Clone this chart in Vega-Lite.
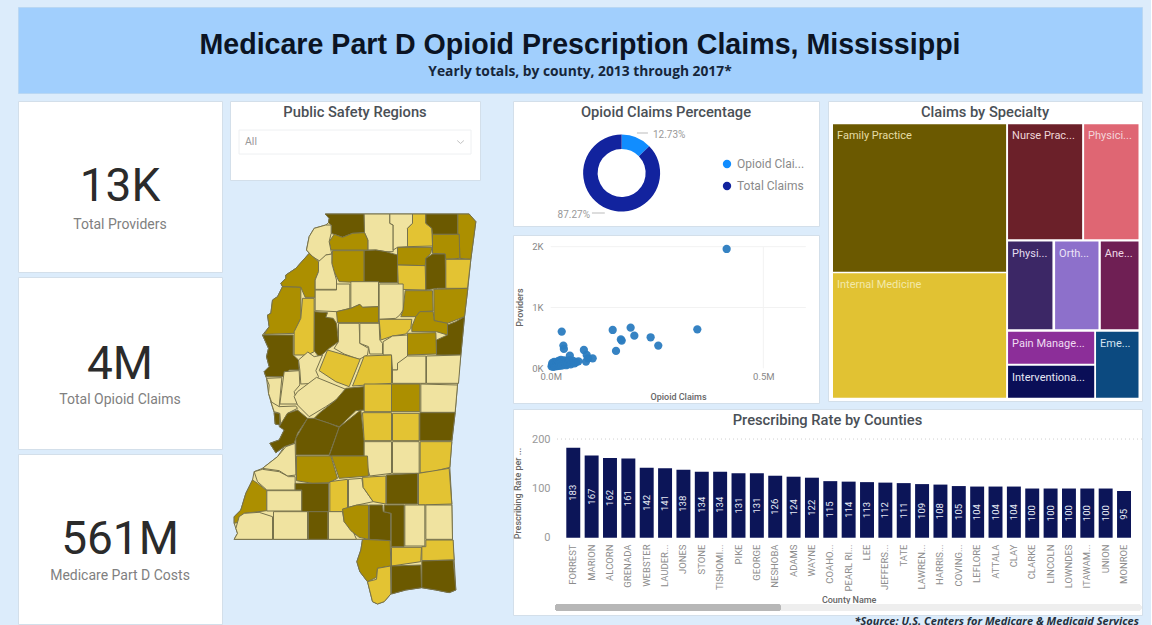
{"$schema":"https://vega.github.io/schema/vega-lite/v6.json","background":"#dcecfb","padding":{"left":17,"top":6,"right":8,"bottom":0},"autosize":{"type":"pad"},"config":{"font":"Roboto","view":{"stroke":null},"title":{"font":"Roboto","fontSize":14.7,"fontWeight":500,"color":"#4a5056","anchor":"middle"},"axis":{"labelFont":"Roboto","titleFont":"Roboto","grid":false,"domain":false,"ticks":false}},"spacing":6,"resolve":{"scale":{"color":"independent"}},"vconcat":[{"width":1124,"height":86,"view":{"fill":"#a1cffd","stroke":"#b9d7f3"},"data":{"values":[{"headline":"Medicare Part D Opioid Prescription Claims, Mississippi","sub":"Yearly totals, by county, 2013 through 2017*"}]},"layer":[{"mark":{"type":"text","font":"Liberation Sans","fontWeight":"bold","fontSize":28.6,"color":"#0b1424","dy":-5},"encoding":{"text":{"field":"headline"}}},{"mark":{"type":"text","font":"Open Sans","fontWeight":"bold","fontSize":13.8,"color":"#16263a","dy":22},"encoding":{"text":{"field":"sub"}}}]},{"spacing":31,"resolve":{"scale":{"color":"independent"}},"hconcat":[{"spacing":6,"resolve":{"scale":{"color":"independent"}},"hconcat":[{"spacing":3,"resolve":{"scale":{"color":"independent"}},"vconcat":[{"width":204,"height":171,"view":{"fill":"white","stroke":"#d3dfea"},"data":{"values":[{"metric":"Total Providers","amount":"13K"}]},"layer":[{"mark":{"type":"text","fontSize":46,"color":"#2b2b2b","dy":0},"encoding":{"text":{"field":"amount"}}},{"mark":{"type":"text","fontSize":14,"color":"#808080","dy":38},"encoding":{"text":{"field":"metric"}}}]},{"width":204,"height":172,"view":{"fill":"white","stroke":"#d3dfea"},"data":{"values":[{"metric":"Total Opioid Claims","amount":"4M"}]},"layer":[{"mark":{"type":"text","fontSize":46,"color":"#2b2b2b","dy":2},"encoding":{"text":{"field":"amount"}}},{"mark":{"type":"text","fontSize":14,"color":"#808080","dy":37},"encoding":{"text":{"field":"metric"}}}]},{"width":204,"height":170,"view":{"fill":"white","stroke":"#d3dfea"},"data":{"values":[{"metric":"Medicare Part D Costs","amount":"561M"}]},"layer":[{"mark":{"type":"text","fontSize":46,"color":"#2b2b2b","dy":1},"encoding":{"text":{"field":"amount"}}},{"mark":{"type":"text","fontSize":14,"color":"#808080","dy":37},"encoding":{"text":{"field":"metric"}}}]}]},{"spacing":31,"resolve":{"scale":{"color":"independent"}},"vconcat":[{"width":250,"height":79,"view":{"fill":"white","stroke":"#d3dfea"},"title":{"text":"Public Safety Regions","offset":-19},"data":{"values":[{"selection":"All"}]},"layer":[{"mark":{"type":"rect","fill":"white","stroke":"#eef0f2"},"encoding":{"x":{"datum":0,"type":"quantitative","axis":null,"scale":{"domain":[0,1],"range":[9,241]}},"x2":{"datum":1},"y":{"datum":0,"type":"quantitative","axis":null,"scale":{"domain":[0,1],"range":[53,29]}},"y2":{"datum":1}}},{"mark":{"type":"text","align":"left","dx":6,"fontSize":10.5,"color":"#999999"},"encoding":{"x":{"datum":0,"type":"quantitative","axis":null,"scale":{"domain":[0,1],"range":[9,241]}},"y":{"datum":0.5,"type":"quantitative","axis":null,"scale":{"domain":[0,1],"range":[53,29]}},"text":{"field":"selection"}}},{"mark":{"type":"point","shape":"M-1,-0.45L0,0.45L1,-0.45","filled":false,"size":45,"stroke":"#aaaaaa","strokeWidth":1},"encoding":{"x":{"datum":0.955,"type":"quantitative","axis":null,"scale":{"domain":[0,1],"range":[9,241]}},"y":{"datum":0.5,"type":"quantitative","axis":null,"scale":{"domain":[0,1],"range":[53,29]}}}}]},{"width":250,"height":390,"data":{"values":[
{"type":"Feature","properties":{"unit":0,"shade":"L"},"geometry":{"type":"Polygon","coordinates":[[[288,42],[720,42],[740,65],[725,178],[716,265],[706,350],[695,465],[685,555],[678,637],[668,725],[662,802],[668,912],[670,1018],[675,1080],[680,1170],[660,1178],[620,1170],[577,1163],[530,1170],[485,1182],[465,1205],[445,1212],[430,1205],[415,1145],[392,1115],[383,1085],[395,1050],[400,1018],[382,1018],[15,1018],[25,1000],[20,985],[15,970],[15,950],[35,930],[50,880],[70,840],[75,815],[100,805],[145,770],[165,740],[140,758],[122,730],[150,720],[165,690],[152,675],[138,672],[135,638],[125,605],[118,580],[112,535],[105,515],[120,500],[112,470],[118,445],[100,405],[120,380],[115,345],[125,340],[130,300],[145,290],[160,260],[155,250],[170,235],[170,225],[200,205],[240,160],[232,150],[240,110],[255,85],[290,75],[298,68],[300,55],[288,42]]]}},
{"type":"Feature","properties":{"unit":1,"shade":"D"},"geometry":{"type":"Polygon","coordinates":[[[288,42],[405,42],[406,98],[370,100],[340,112],[315,103],[305,100],[306,75],[298,68],[300,55],[288,42]]]}},
{"type":"Feature","properties":{"unit":2,"shade":"L"},"geometry":{"type":"Polygon","coordinates":[[[405,42],[482,42],[482,70],[492,75],[492,155],[470,155],[440,150],[416,150],[416,120],[406,98],[405,42]]]}},
{"type":"Feature","properties":{"unit":3,"shade":"L"},"geometry":{"type":"Polygon","coordinates":[[[482,42],[550,42],[550,70],[535,85],[535,140],[505,142],[492,150],[492,75],[482,70],[482,42]]]}},
{"type":"Feature","properties":{"unit":4,"shade":"Y"},"geometry":{"type":"Polygon","coordinates":[[[550,42],[590,42],[590,70],[608,85],[610,138],[535,140],[535,85],[550,70],[550,42]]]}},
{"type":"Feature","properties":{"unit":5,"shade":"D"},"geometry":{"type":"Polygon","coordinates":[[[590,42],[686,42],[686,103],[610,103],[608,85],[590,70],[590,42]]]}},
{"type":"Feature","properties":{"unit":6,"shade":"M"},"geometry":{"type":"Polygon","coordinates":[[[686,42],[720,42],[740,65],[725,178],[692,175],[690,103],[686,103],[686,42]]]}},
{"type":"Feature","properties":{"unit":7,"shade":"M"},"geometry":{"type":"Polygon","coordinates":[[[610,103],[690,103],[692,175],[650,178],[648,162],[610,160],[610,138],[610,103]]]}},
{"type":"Feature","properties":{"unit":8,"shade":"M"},"geometry":{"type":"Polygon","coordinates":[[[315,103],[340,112],[370,100],[406,98],[416,120],[416,150],[305,150],[300,125],[315,103]]]}},
{"type":"Feature","properties":{"unit":9,"shade":"L"},"geometry":{"type":"Polygon","coordinates":[[[306,75],[306,100],[300,125],[305,150],[308,162],[290,165],[275,185],[250,170],[232,150],[240,110],[255,85],[290,75],[306,75]]]}},
{"type":"Feature","properties":{"unit":10,"shade":"M"},"geometry":{"type":"Polygon","coordinates":[[[310,152],[405,152],[405,248],[330,245],[315,215],[308,190],[310,152]]]}},
{"type":"Feature","properties":{"unit":11,"shade":"D"},"geometry":{"type":"Polygon","coordinates":[[[405,152],[440,150],[470,155],[505,165],[505,248],[405,248],[405,152]]]}},
{"type":"Feature","properties":{"unit":12,"shade":"M"},"geometry":{"type":"Polygon","coordinates":[[[505,142],[608,142],[605,160],[590,175],[588,197],[505,195],[505,142]]]}},
{"type":"Feature","properties":{"unit":13,"shade":"Y"},"geometry":{"type":"Polygon","coordinates":[[[505,195],[588,197],[590,270],[508,268],[505,195]]]}},
{"type":"Feature","properties":{"unit":14,"shade":"D"},"geometry":{"type":"Polygon","coordinates":[[[590,175],[610,162],[648,162],[650,265],[625,265],[590,270],[590,175]]]}},
{"type":"Feature","properties":{"unit":15,"shade":"Y"},"geometry":{"type":"Polygon","coordinates":[[[650,178],[725,178],[715,265],[650,265],[650,178]]]}},
{"type":"Feature","properties":{"unit":16,"shade":"M"},"geometry":{"type":"Polygon","coordinates":[[[240,160],[268,185],[268,215],[258,240],[258,292],[228,292],[215,262],[160,260],[155,250],[170,235],[170,225],[200,205],[240,160]]]}},
{"type":"Feature","properties":{"unit":17,"shade":"L"},"geometry":{"type":"Polygon","coordinates":[[[290,165],[308,162],[308,190],[322,240],[322,268],[258,268],[258,240],[268,215],[268,185],[290,165]]]}},
{"type":"Feature","properties":{"unit":18,"shade":"M"},"geometry":{"type":"Polygon","coordinates":[[[160,260],[215,262],[215,355],[195,400],[105,403],[120,380],[115,345],[125,340],[130,300],[145,290],[160,260]]]}},
{"type":"Feature","properties":{"unit":19,"shade":"Y"},"geometry":{"type":"Polygon","coordinates":[[[220,295],[255,295],[255,455],[235,465],[195,465],[195,395],[215,355],[220,295]]]}},
{"type":"Feature","properties":{"unit":20,"shade":"L"},"geometry":{"type":"Polygon","coordinates":[[[258,270],[322,270],[322,252],[362,252],[362,325],[322,335],[258,332],[258,270]]]}},
{"type":"Feature","properties":{"unit":21,"shade":"L"},"geometry":{"type":"Polygon","coordinates":[[[365,245],[448,245],[448,320],[400,322],[392,313],[365,325],[365,245]]]}},
{"type":"Feature","properties":{"unit":22,"shade":"L"},"geometry":{"type":"Polygon","coordinates":[[[450,252],[522,252],[522,330],[512,345],[500,355],[450,358],[450,252]]]}},
{"type":"Feature","properties":{"unit":23,"shade":"M"},"geometry":{"type":"Polygon","coordinates":[[[528,272],[610,272],[612,333],[572,335],[560,350],[515,350],[522,330],[528,272]]]}},
{"type":"Feature","properties":{"unit":24,"shade":"M"},"geometry":{"type":"Polygon","coordinates":[[[614,268],[716,265],[706,350],[680,360],[655,370],[615,362],[614,268]]]}},
{"type":"Feature","properties":{"unit":25,"shade":"M"},"geometry":{"type":"Polygon","coordinates":[[[322,335],[365,325],[392,313],[400,322],[448,320],[448,368],[325,368],[322,335]]]}},
{"type":"Feature","properties":{"unit":26,"shade":"D"},"geometry":{"type":"Polygon","coordinates":[[[256,335],[295,338],[290,352],[312,355],[322,370],[328,425],[300,445],[270,472],[255,452],[256,335]]]}},
{"type":"Feature","properties":{"unit":27,"shade":"L"},"geometry":{"type":"Polygon","coordinates":[[[328,370],[390,370],[392,430],[418,445],[415,465],[390,478],[345,462],[315,445],[328,425],[328,370]]]}},
{"type":"Feature","properties":{"unit":28,"shade":"L"},"geometry":{"type":"Polygon","coordinates":[[[392,370],[450,370],[452,420],[460,430],[460,462],[422,462],[418,440],[392,430],[392,370]]]}},
{"type":"Feature","properties":{"unit":29,"shade":"Y"},"geometry":{"type":"Polygon","coordinates":[[[450,358],[548,358],[545,385],[530,402],[490,408],[455,420],[450,358]]]}},
{"type":"Feature","properties":{"unit":30,"shade":"M"},"geometry":{"type":"Polygon","coordinates":[[[560,350],[572,335],[612,335],[615,362],[655,370],[655,405],[622,395],[548,395],[548,380],[560,350]]]}},
{"type":"Feature","properties":{"unit":31,"shade":"M"},"geometry":{"type":"Polygon","coordinates":[[[535,400],[620,398],[622,462],[535,465],[535,400]]]}},
{"type":"Feature","properties":{"unit":32,"shade":"D"},"geometry":{"type":"Polygon","coordinates":[[[655,375],[680,365],[706,350],[695,465],[622,465],[622,420],[655,405],[655,375]]]}},
{"type":"Feature","properties":{"unit":33,"shade":"L"},"geometry":{"type":"Polygon","coordinates":[[[462,425],[490,408],[535,405],[535,468],[520,485],[505,490],[505,510],[490,510],[487,465],[462,465],[462,425]]]}},
{"type":"Feature","properties":{"unit":34,"shade":"D"},"geometry":{"type":"Polygon","coordinates":[[[100,405],[192,405],[192,465],[208,480],[210,510],[180,510],[160,530],[110,530],[105,515],[120,500],[112,470],[118,445],[100,405]]]}},
{"type":"Feature","properties":{"unit":35,"shade":"L"},"geometry":{"type":"Polygon","coordinates":[[[208,480],[236,456],[255,470],[280,465],[260,512],[268,530],[255,550],[215,552],[212,510],[208,480]]]}},
{"type":"Feature","properties":{"unit":36,"shade":"Y"},"geometry":{"type":"Polygon","coordinates":[[[295,450],[393,478],[360,560],[320,545],[270,512],[295,450]]]}},
{"type":"Feature","properties":{"unit":37,"shade":"Y"},"geometry":{"type":"Polygon","coordinates":[[[405,468],[487,465],[487,550],[370,558],[385,520],[405,468]]]}},
{"type":"Feature","properties":{"unit":38,"shade":"L"},"geometry":{"type":"Polygon","coordinates":[[[490,510],[505,510],[505,490],[535,468],[590,468],[590,550],[490,550],[490,510]]]}},
{"type":"Feature","properties":{"unit":39,"shade":"L"},"geometry":{"type":"Polygon","coordinates":[[[592,468],[695,465],[688,550],[592,550],[592,468]]]}},
{"type":"Feature","properties":{"unit":40,"shade":"L"},"geometry":{"type":"Polygon","coordinates":[[[112,535],[158,533],[150,620],[135,632],[125,600],[118,580],[120,555],[112,535]]]}},
{"type":"Feature","properties":{"unit":41,"shade":"L"},"geometry":{"type":"Polygon","coordinates":[[[165,515],[210,512],[212,555],[195,575],[205,612],[152,612],[165,515]]]}},
{"type":"Feature","properties":{"unit":42,"shade":"L"},"geometry":{"type":"Polygon","coordinates":[[[205,575],[262,532],[350,568],[335,590],[290,620],[240,650],[205,615],[195,590],[205,575]]]}},
{"type":"Feature","properties":{"unit":43,"shade":"D"},"geometry":{"type":"Polygon","coordinates":[[[135,638],[152,640],[152,675],[138,672],[135,638]]]}},
{"type":"Feature","properties":{"unit":44,"shade":"L"},"geometry":{"type":"Polygon","coordinates":[[[125,605],[150,620],[200,618],[205,625],[175,640],[155,675],[152,640],[135,635],[125,605]]]}},
{"type":"Feature","properties":{"unit":45,"shade":"D"},"geometry":{"type":"Polygon","coordinates":[[[350,565],[405,560],[405,630],[380,632],[330,680],[300,670],[255,655],[270,640],[320,600],[350,565]]]}},
{"type":"Feature","properties":{"unit":46,"shade":"D"},"geometry":{"type":"Polygon","coordinates":[[[175,640],[205,630],[235,655],[205,700],[195,730],[165,740],[140,758],[122,730],[150,720],[165,690],[150,680],[175,640]]]}},
{"type":"Feature","properties":{"unit":47,"shade":"D"},"geometry":{"type":"Polygon","coordinates":[[[235,655],[255,655],[300,670],[330,682],[300,765],[200,765],[200,715],[235,655]]]}},
{"type":"Feature","properties":{"unit":48,"shade":"D"},"geometry":{"type":"Polygon","coordinates":[[[330,682],[395,630],[405,720],[405,768],[300,768],[330,682]]]}},
{"type":"Feature","properties":{"unit":49,"shade":"Y"},"geometry":{"type":"Polygon","coordinates":[[[405,552],[487,552],[487,635],[405,635],[405,552]]]}},
{"type":"Feature","properties":{"unit":50,"shade":"M"},"geometry":{"type":"Polygon","coordinates":[[[487,552],[572,552],[572,635],[487,635],[487,552]]]}},
{"type":"Feature","properties":{"unit":51,"shade":"L"},"geometry":{"type":"Polygon","coordinates":[[[575,552],[685,555],[678,637],[575,637],[575,552]]]}},
{"type":"Feature","properties":{"unit":52,"shade":"Y"},"geometry":{"type":"Polygon","coordinates":[[[400,638],[487,638],[487,722],[405,722],[400,638]]]}},
{"type":"Feature","properties":{"unit":53,"shade":"Y"},"geometry":{"type":"Polygon","coordinates":[[[490,640],[570,640],[570,722],[490,722],[490,640]]]}},
{"type":"Feature","properties":{"unit":54,"shade":"D"},"geometry":{"type":"Polygon","coordinates":[[[572,638],[678,638],[668,722],[572,722],[572,638]]]}},
{"type":"Feature","properties":{"unit":55,"shade":"L"},"geometry":{"type":"Polygon","coordinates":[[[405,725],[487,725],[487,820],[422,828],[405,768],[405,725]]]}},
{"type":"Feature","properties":{"unit":56,"shade":"L"},"geometry":{"type":"Polygon","coordinates":[[[490,725],[570,725],[570,820],[490,820],[490,725]]]}},
{"type":"Feature","properties":{"unit":57,"shade":"Y"},"geometry":{"type":"Polygon","coordinates":[[[573,725],[668,725],[662,802],[610,815],[573,818],[573,725]]]}},
{"type":"Feature","properties":{"unit":58,"shade":"L"},"geometry":{"type":"Polygon","coordinates":[[[145,770],[170,740],[198,730],[200,825],[175,828],[150,812],[100,805],[145,770]]]}},
{"type":"Feature","properties":{"unit":59,"shade":"M"},"geometry":{"type":"Polygon","coordinates":[[[202,768],[305,768],[325,835],[300,848],[250,850],[202,842],[202,768]]]}},
{"type":"Feature","properties":{"unit":60,"shade":"M"},"geometry":{"type":"Polygon","coordinates":[[[307,768],[415,768],[418,828],[330,835],[307,768]]]}},
{"type":"Feature","properties":{"unit":61,"shade":"L"},"geometry":{"type":"Polygon","coordinates":[[[75,815],[100,808],[150,815],[178,830],[198,830],[198,870],[113,870],[85,845],[75,815]]]}},
{"type":"Feature","properties":{"unit":62,"shade":"M"},"geometry":{"type":"Polygon","coordinates":[[[70,840],[85,850],[113,872],[113,932],[45,940],[35,965],[15,970],[15,950],[35,930],[50,880],[70,840]]]}},
{"type":"Feature","properties":{"unit":84,"shade":"L"},"geometry":{"type":"Polygon","coordinates":[[[113,872],[218,872],[218,933],[113,933],[113,872]]]}},
{"type":"Feature","properties":{"unit":63,"shade":"D"},"geometry":{"type":"Polygon","coordinates":[[[198,850],[298,850],[298,935],[218,935],[218,870],[198,870],[198,850]]]}},
{"type":"Feature","properties":{"unit":64,"shade":"Y"},"geometry":{"type":"Polygon","coordinates":[[[302,845],[355,838],[355,925],[338,935],[302,935],[302,845]]]}},
{"type":"Feature","properties":{"unit":65,"shade":"L"},"geometry":{"type":"Polygon","coordinates":[[[358,838],[398,835],[402,862],[432,905],[385,915],[358,922],[358,838]]]}},
{"type":"Feature","properties":{"unit":66,"shade":"Y"},"geometry":{"type":"Polygon","coordinates":[[[400,832],[470,828],[470,912],[432,905],[402,862],[400,832]]]}},
{"type":"Feature","properties":{"unit":67,"shade":"D"},"geometry":{"type":"Polygon","coordinates":[[[472,825],[565,820],[565,912],[472,912],[472,825]]]}},
{"type":"Feature","properties":{"unit":68,"shade":"Y"},"geometry":{"type":"Polygon","coordinates":[[[568,820],[660,805],[668,912],[568,915],[568,820]]]}},
{"type":"Feature","properties":{"unit":69,"shade":"L"},"geometry":{"type":"Polygon","coordinates":[[[20,985],[30,950],[45,940],[90,937],[130,950],[130,1018],[15,1018],[25,1000],[20,985]]]}},
{"type":"Feature","properties":{"unit":70,"shade":"L"},"geometry":{"type":"Polygon","coordinates":[[[133,935],[235,935],[235,1018],[133,1018],[133,935]]]}},
{"type":"Feature","properties":{"unit":71,"shade":"D"},"geometry":{"type":"Polygon","coordinates":[[[238,935],[296,935],[296,1018],[238,1018],[238,935]]]}},
{"type":"Feature","properties":{"unit":72,"shade":"L"},"geometry":{"type":"Polygon","coordinates":[[[298,935],[340,935],[345,965],[370,990],[382,1018],[298,1018],[298,935]]]}},
{"type":"Feature","properties":{"unit":73,"shade":"M"},"geometry":{"type":"Polygon","coordinates":[[[340,927],[383,915],[418,915],[418,1018],[390,1012],[365,992],[345,965],[340,927]]]}},
{"type":"Feature","properties":{"unit":74,"shade":"D"},"geometry":{"type":"Polygon","coordinates":[[[420,915],[460,915],[462,935],[484,940],[484,1022],[420,1018],[420,915]]]}},
{"type":"Feature","properties":{"unit":75,"shade":"D"},"geometry":{"type":"Polygon","coordinates":[[[465,915],[525,915],[525,1040],[486,1040],[486,940],[465,935],[465,915]]]}},
{"type":"Feature","properties":{"unit":76,"shade":"L"},"geometry":{"type":"Polygon","coordinates":[[[527,915],[587,915],[587,1038],[527,1038],[527,915]]]}},
{"type":"Feature","properties":{"unit":77,"shade":"L"},"geometry":{"type":"Polygon","coordinates":[[[590,915],[668,915],[670,1018],[590,1018],[590,915]]]}},
{"type":"Feature","properties":{"unit":78,"shade":"M"},"geometry":{"type":"Polygon","coordinates":[[[400,1018],[483,1022],[485,1098],[445,1105],[442,1132],[415,1145],[392,1115],[383,1085],[395,1050],[400,1018]]]}},
{"type":"Feature","properties":{"unit":79,"shade":"Y"},"geometry":{"type":"Polygon","coordinates":[[[487,1042],[577,1042],[575,1085],[487,1098],[487,1042]]]}},
{"type":"Feature","properties":{"unit":80,"shade":"Y"},"geometry":{"type":"Polygon","coordinates":[[[590,1020],[672,1020],[675,1080],[578,1082],[578,1040],[590,1040],[590,1020]]]}},
{"type":"Feature","properties":{"unit":81,"shade":"Y"},"geometry":{"type":"Polygon","coordinates":[[[445,1105],[484,1098],[485,1182],[465,1205],[445,1212],[430,1205],[415,1145],[442,1138],[445,1105]]]}},
{"type":"Feature","properties":{"unit":82,"shade":"D"},"geometry":{"type":"Polygon","coordinates":[[[487,1098],[575,1095],[577,1163],[530,1170],[487,1182],[487,1098]]]}},
{"type":"Feature","properties":{"unit":83,"shade":"D"},"geometry":{"type":"Polygon","coordinates":[[[578,1083],[672,1080],[680,1170],[660,1178],[620,1170],[578,1163],[578,1083]]]}}
]},"projection":{"type":"identity","reflectY":false},"mark":{"type":"geoshape","stroke":"#77724c","strokeWidth":1},"encoding":{"color":{"field":"properties.shade","type":"nominal","legend":null,"scale":{"domain":["D","M","Y","L"],"range":["#6b5900","#ac8f00","#e3c333","#f0e3a0"]}}}}]}]},{"spacing":4,"resolve":{"scale":{"color":"independent"}},"vconcat":[{"spacing":7,"resolve":{"scale":{"color":"independent"}},"hconcat":[{"spacing":7,"resolve":{"scale":{"color":"independent"}},"vconcat":[{"width":306,"height":125,"view":{"fill":"white","stroke":"#d3dfea"},"title":{"text":"Opioid Claims Percentage","offset":-19},"data":{"values":[{"label":"Opioid Clai...","share":0.1273},{"label":"Total Claims","share":0.8727}]},"transform":[{"stack":"share","as":["start","end"]}],"layer":[{"mark":{"type":"arc","radius":38.5,"radius2":24},"encoding":{"theta":{"field":"start","type":"quantitative","stack":null,"scale":{"domain":[0,1]}},"theta2":{"field":"end"},"x":{"datum":0.355,"type":"quantitative","axis":null,"scale":{"domain":[0,1]}},"y":{"datum":0.424,"type":"quantitative","axis":null,"scale":{"domain":[0,1]}},"color":{"field":"label","type":"nominal","scale":{"domain":["Opioid Clai...","Total Claims"],"range":["#118dff","#12239e"]},"legend":{"orient":"none","legendX":208,"legendY":57,"title":null,"symbolType":"circle","symbolSize":70,"labelFontSize":12,"labelColor":"#8a8a8a","rowPadding":10,"labelFont":"Roboto"}}}},{"transform":[{"filter":"datum.share < 0.5"}],"mark":{"type":"text","align":"left","fontSize":10,"color":"#999999"},"encoding":{"x":{"datum":0.4575,"type":"quantitative","axis":null,"scale":{"domain":[0,1]}},"y":{"datum":0.728,"type":"quantitative","axis":null,"scale":{"domain":[0,1]}},"text":{"field":"share","format":".2%"}}},{"transform":[{"filter":"datum.share > 0.5"}],"mark":{"type":"text","align":"right","fontSize":10,"color":"#999999"},"encoding":{"x":{"datum":0.2516,"type":"quantitative","axis":null,"scale":{"domain":[0,1]}},"y":{"datum":0.088,"type":"quantitative","axis":null,"scale":{"domain":[0,1]}},"text":{"field":"share","format":".2%"}}},{"transform":[{"filter":"datum.share < 0.5"}],"mark":{"type":"rule","stroke":"#bbbbbb"},"encoding":{"x":{"datum":0.405,"type":"quantitative","axis":null,"scale":{"domain":[0,1]}},"x2":{"datum":0.441},"y":{"datum":0.744,"type":"quantitative","axis":null,"scale":{"domain":[0,1]}}}},{"transform":[{"filter":"datum.share > 0.5"}],"mark":{"type":"rule","stroke":"#bbbbbb"},"encoding":{"x":{"datum":0.258,"type":"quantitative","axis":null,"scale":{"domain":[0,1]}},"x2":{"datum":0.3},"y":{"datum":0.104,"type":"quantitative","axis":null,"scale":{"domain":[0,1]}}}}]},{"width":306,"height":168,"view":{"fill":"white","stroke":"#d3dfea"},"resolve":{"axis":{"x":"independent","y":"independent"}},"layer":[{"data":{"values":[{"k":1000},{"k":2000}]},"mark":{"type":"rule","stroke":"#f2f2f2"},"encoding":{"y":{"field":"k","type":"quantitative","axis":null,"scale":{"domain":[-571,2192]}},"x":{"datum":0,"type":"quantitative","axis":null,"scale":{"domain":[-88700,631000]}},"x2":{"datum":600000}}},{"data":{"values":[{"m":500000}]},"mark":{"type":"rule","stroke":"#f2f2f2"},"encoding":{"x":{"field":"m","type":"quantitative","axis":null,"scale":{"domain":[-88700,631000]}},"y":{"datum":0,"type":"quantitative","axis":null,"scale":{"domain":[-571,2192]}},"y2":{"datum":2000}}},{"data":{"values":[{"claims":413800,"providers":1962},{"claims":344800,"providers":641},{"claims":145800,"providers":630},{"claims":188000,"providers":668},{"claims":196700,"providers":537},{"claims":167000,"providers":455},{"claims":165000,"providers":475},{"claims":235000,"providers":510},{"claims":253000,"providers":373},{"claims":153600,"providers":285},{"claims":25900,"providers":603},{"claims":29800,"providers":373},{"claims":31000,"providers":318},{"claims":78000,"providers":301},{"claims":84600,"providers":219},{"claims":98700,"providers":164},{"claims":83000,"providers":110},{"claims":45000,"providers":208},{"claims":88000,"providers":165},{"claims":2000,"providers":30},{"claims":3000,"providers":60},{"claims":4000,"providers":90},{"claims":5000,"providers":40},{"claims":6000,"providers":25},{"claims":7000,"providers":70},{"claims":8000,"providers":105},{"claims":9000,"providers":50},{"claims":10000,"providers":30},{"claims":11000,"providers":75},{"claims":12000,"providers":45},{"claims":13000,"providers":100},{"claims":14000,"providers":60},{"claims":15000,"providers":35},{"claims":16000,"providers":85},{"claims":17000,"providers":50},{"claims":18000,"providers":120},{"claims":19000,"providers":70},{"claims":20000,"providers":40},{"claims":21000,"providers":95},{"claims":22000,"providers":60},{"claims":24000,"providers":140},{"claims":25000,"providers":80},{"claims":26000,"providers":45},{"claims":28000,"providers":110},{"claims":30000,"providers":65},{"claims":32000,"providers":130},{"claims":34000,"providers":80},{"claims":36000,"providers":50},{"claims":38000,"providers":120},{"claims":40000,"providers":70},{"claims":42000,"providers":100},{"claims":45000,"providers":135},{"claims":47000,"providers":65},{"claims":50000,"providers":90},{"claims":53000,"providers":120},{"claims":56000,"providers":80},{"claims":60000,"providers":100},{"claims":65000,"providers":115}]},"mark":{"type":"point","filled":true,"size":68,"color":"#2b7cc0","opacity":0.95},"encoding":{"x":{"field":"claims","type":"quantitative","scale":{"domain":[-88700,631000]},"axis":{"orient":"bottom","offset":-35,"values":[0,500000],"labelExpr":"format(datum.value/1000000,'.1f')+'M'","labelFontSize":9.5,"labelColor":"#888888","labelPadding":3,"title":"Opioid Claims","titleFontSize":9,"titleFontWeight":500,"titleColor":"#666666","titleX":165,"titleY":24}},"y":{"field":"providers","type":"quantitative","scale":{"domain":[-571,2192]},"axis":{"orient":"left","offset":-38,"values":[0,1000,2000],"labelExpr":"(datum.value/1000)+'K'","labelFontSize":9.5,"labelColor":"#888888","labelPadding":8,"title":"Providers","titleFontSize":9,"titleFontWeight":500,"titleColor":"#666666","titleX":-27,"titleY":72}}}}]}]},{"width":314,"height":300,"view":{"fill":"white","stroke":"#d3dfea"},"title":{"text":"Claims by Specialty","offset":-19},"data":{"values":[{"specialty":"Family Practice","x0":0,"x1":56.66,"y0":0,"y1":53.9},{"specialty":"Internal Medicine","x0":0,"x1":56.66,"y0":54.5,"y1":100},{"specialty":"Nurse Prac...","x0":57.3,"x1":81.55,"y0":0,"y1":42.07},{"specialty":"Physici...","x0":82.2,"x1":100,"y0":0,"y1":42.07},{"specialty":"Physi...","x0":57.3,"x1":71.83,"y0":42.9,"y1":75},{"specialty":"Orth...","x0":72.7,"x1":86.9,"y0":42.9,"y1":75},{"specialty":"Ane...","x0":87.66,"x1":100,"y0":42.9,"y1":75},{"specialty":"Pain Manage...","x0":57.3,"x1":85.5,"y0":75.85,"y1":87.56},{"specialty":"Interventiona...","x0":57.3,"x1":85.5,"y0":88.3,"y1":100},{"specialty":"Eme...","x0":86.1,"x1":100,"y0":75.85,"y1":100}]},"resolve":{"scale":{"color":"independent"}},"layer":[{"mark":{"type":"rect"},"encoding":{"x":{"field":"x0","type":"quantitative","axis":null,"scale":{"domain":[0,100],"range":[5,310.5]}},"x2":{"field":"x1"},"y":{"field":"y0","type":"quantitative","axis":null,"scale":{"domain":[0,100],"range":[23.3,296.7]}},"y2":{"field":"y1"},"color":{"field":"specialty","type":"nominal","legend":null,"sort":null,"scale":{"domain":["Family Practice","Internal Medicine","Nurse Prac...","Physici...","Physi...","Orth...","Ane...","Pain Manage...","Interventiona...","Eme..."],"range":["#6b5900","#e1c233","#6b2029","#df6673","#3c2766","#8d70cb","#6f1f54","#8c2e99","#0a0e57","#0c4a80"]}}}},{"mark":{"type":"text","align":"left","baseline":"middle","dx":4,"dy":12,"fontSize":11},"encoding":{"x":{"field":"x0","type":"quantitative","axis":null,"scale":{"domain":[0,100],"range":[5,310.5]}},"y":{"field":"y0","type":"quantitative","axis":null,"scale":{"domain":[0,100],"range":[23.3,296.7]}},"text":{"field":"specialty"},"color":{"field":"specialty","type":"nominal","legend":null,"sort":null,"scale":{"domain":["Family Practice","Internal Medicine","Nurse Prac...","Physici...","Physi...","Orth...","Ane...","Pain Manage...","Interventiona...","Eme..."],"range":["#e6dda5","#f3e9a9","#eed5d8","#f3d5da","#e3dcef","#ece4f7","#eed7e5","#efdcf2","#e6e7f4","#d5e4f1"]}}}}]}]},{"width":629,"height":206,"view":{"fill":"white","stroke":"#d3dfea"},"title":{"text":"Prescribing Rate by Counties","offset":-19},"data":{"values":[{"county":"FORREST","rate":183},{"county":"MARION","rate":167},{"county":"ALCORN","rate":162},{"county":"GRENADA","rate":161},{"county":"WEBSTER","rate":142},{"county":"LAUDER...","rate":141},{"county":"JONES","rate":138},{"county":"STONE","rate":134},{"county":"TISHOMI...","rate":134},{"county":"PIKE","rate":131},{"county":"GEORGE","rate":131},{"county":"NESHOBA","rate":126},{"county":"ADAMS","rate":124},{"county":"WAYNE","rate":122},{"county":"COAHO...","rate":115},{"county":"PEARL RI...","rate":114},{"county":"LEE","rate":113},{"county":"JEFFERS...","rate":112},{"county":"TATE","rate":111},{"county":"LAWREN...","rate":109},{"county":"HARRIS...","rate":108},{"county":"COVING...","rate":105},{"county":"LEFLORE","rate":104},{"county":"ATTALA","rate":104},{"county":"CLAY","rate":104},{"county":"CLARKE","rate":100},{"county":"LINCOLN","rate":100},{"county":"LOWNDES","rate":100},{"county":"ITAWAM...","rate":100},{"county":"UNION","rate":100},{"county":"MONROE","rate":95}]},"resolve":{"scale":{"x":"independent","y":"independent"}},"layer":[{"mark":{"type":"bar","color":"#0c1558"},"encoding":{"x":{"field":"county","type":"nominal","sort":null,"scale":{"range":[51.1,620.2],"paddingInner":0.24,"paddingOuter":0.12},"axis":{"orient":"bottom","offset":-77,"labelAngle":270,"labelFontSize":9.5,"labelColor":"#8c8c8c","labelPadding":6,"labelLimit":70,"title":"County Name","titleFontSize":9,"titleFontWeight":500,"titleColor":"#666666","titleY":57}},"y":{"field":"rate","type":"quantitative","scale":{"domain":[-157,261.6]},"axis":{"orient":"left","offset":-39,"values":[0,100,200],"labelFontSize":11,"labelColor":"#999999","labelPadding":2,"title":"Prescribing Rate per ...","titleFontSize":9,"titleFontWeight":500,"titleColor":"#666666","titleX":-30,"titleY":84}}}},{"mark":{"type":"text","angle":270,"color":"#e8ebf5","fontSize":9.5,"baseline":"middle","align":"center"},"encoding":{"x":{"field":"county","type":"nominal","sort":null,"axis":null,"scale":{"range":[51.1,620.2],"paddingInner":0.24,"paddingOuter":0.12}},"y":{"field":"rate","type":"quantitative","axis":null,"scale":{"domain":[-314,523.2]}},"text":{"field":"rate"}}},{"mark":{"type":"rule","stroke":"#e5e5e5","strokeDash":[1,3]},"encoding":{"x":{"datum":0.07,"type":"quantitative","axis":null,"scale":{"domain":[0,1]}},"x2":{"datum":1},"y":{"datum":200,"type":"quantitative","axis":null,"scale":{"domain":[-157,261.6]}}}},{"mark":{"type":"rule","stroke":"#eeeeee","strokeWidth":6,"strokeCap":"round"},"encoding":{"x":{"datum":0.0731,"type":"quantitative","axis":null,"scale":{"domain":[0,1]}},"x2":{"datum":0.994},"y":{"datum":-142,"type":"quantitative","axis":null,"scale":{"domain":[-157,261.6]}}}},{"mark":{"type":"rule","stroke":"#b7b7b7","strokeWidth":7,"strokeCap":"round"},"encoding":{"x":{"datum":0.0731,"type":"quantitative","axis":null,"scale":{"domain":[0,1]}},"x2":{"datum":0.4197},"y":{"datum":-142,"type":"quantitative","axis":null,"scale":{"domain":[-157,261.6]}}}},{"data":{"values":[{"note":"*Source: U.S. Centers for Medicare & Medicaid Services"}]},"mark":{"type":"text","align":"right","fontSize":11,"fontWeight":"bold","fontStyle":"italic","font":"Open Sans","color":"#26303c"},"encoding":{"x":{"datum":0.995,"type":"quantitative","axis":null,"scale":{"domain":[0,1]}},"y":{"datum":-172,"type":"quantitative","axis":null,"scale":{"domain":[-157,261.6]}},"text":{"field":"note"}}}]}]}]}]}
